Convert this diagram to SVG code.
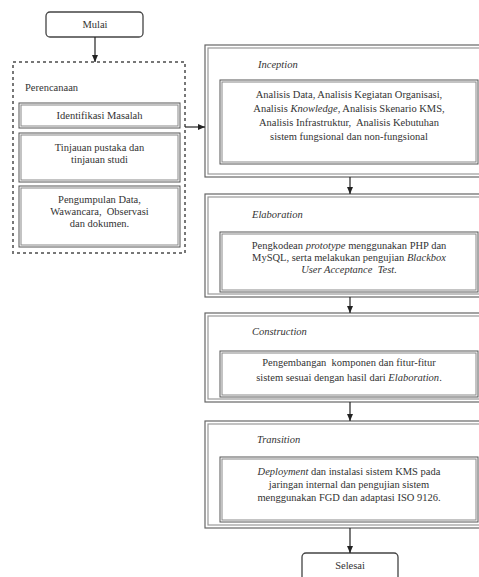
<svg xmlns="http://www.w3.org/2000/svg" width="479" height="577" viewBox="0 0 479 577" font-family="'Liberation Serif', 'Times New Roman', serif">
<defs>
<marker id="ah" markerWidth="8" markerHeight="8" refX="7" refY="4" orient="auto" markerUnits="userSpaceOnUse">
<path d="M0,1 L7,4 L0,7 z" fill="#222"/>
</marker>
<style>
text{font-family:'Liberation Serif','Times New Roman',serif;font-size:10.5px;fill:#333;}
.c{text-anchor:middle;}
.i{font-style:italic;}
.term{fill:#fff;stroke:#444;stroke-width:1.3;}
.dash{fill:#fff;stroke:#777;stroke-width:2;stroke-dasharray:3 3;}
.dbl{fill:none;stroke:#555;stroke-width:1;}
.dbl2{fill:none;stroke:#888;stroke-width:1;}
.outer{fill:#fff;stroke:#666;stroke-width:1.2;}
.outer2{fill:none;stroke:#999;stroke-width:1.2;}
.conn{stroke:#222;stroke-width:1.2;fill:none;marker-end:url(#ah);}
</style>
</defs>
<rect width="479" height="577" fill="#fff"/>

<g id="mulai">
<rect class="term" x="46" y="12" width="97" height="25" rx="4"/>
<text class="c" x="95" y="28">Mulai</text>
</g>

<g id="perencanaan">
<rect class="dash" x="13" y="62" width="172" height="191"/>
<text x="25" y="91">Perencanaan</text>
</g>

<g id="identifikasi">
<rect class="dbl" x="19" y="103" width="161" height="25"/>
<rect class="dbl2" x="21" y="105" width="157" height="21"/>
<text class="c" x="99.5" y="119">Identifikasi Masalah</text>
</g>

<g id="tinjauan">
<rect class="dbl" x="19" y="133" width="161" height="49"/>
<rect class="dbl2" x="21" y="135" width="157" height="45"/>
<text class="c" x="99.5" y="151">Tinjauan pustaka dan</text>
<text class="c" x="99.5" y="163">tinjauan studi</text>
</g>

<g id="pengumpulan">
<rect class="dbl" x="19" y="186" width="161" height="61"/>
<rect class="dbl2" x="21" y="188" width="157" height="57"/>
<text class="c" x="99.5" y="203">Pengumpulan Data,</text>
<text class="c" x="99.5" y="215" xml:space="preserve">Wawancara,  Observasi</text>
<text class="c" x="99.5" y="227">dan dokumen.</text>
</g>

<g id="inception">
<rect class="outer" x="205" y="45" width="290" height="132"/>
<rect class="outer2" x="208" y="48" width="290" height="126"/>
<text class="i" x="258" y="68">Inception</text>
<rect class="dbl" x="220" y="80" width="258" height="84"/>
<rect class="dbl2" x="222" y="82" width="254" height="80"/>
<text class="c" x="349" y="98">Analisis Data, Analisis Kegiatan Organisasi,</text>
<text class="c" x="349" y="112">Analisis <tspan class="i">Knowledge</tspan>, Analisis Skenario KMS,</text>
<text class="c" x="349" y="126" xml:space="preserve">Analisis Infrastruktur,  Analisis Kebutuhan</text>
<text class="c" x="349" y="140">sistem fungsional dan non-fungsional</text>
</g>

<g id="elaboration">
<rect class="outer" x="205" y="194" width="290" height="103"/>
<rect class="outer2" x="208" y="197" width="290" height="97"/>
<text class="i" x="252" y="218">Elaboration</text>
<rect class="dbl" x="220" y="232" width="258" height="60"/>
<rect class="dbl2" x="222" y="234" width="254" height="56"/>
<text class="c" x="349" y="249">Pengkodean <tspan class="i">prototype</tspan> menggunakan PHP dan</text>
<text class="c" x="349" y="261">MySQL, serta melakukan pengujian <tspan class="i">Blackbox</tspan></text>
<text class="c i" x="349" y="273" xml:space="preserve">User Acceptance  Test.</text>
</g>

<g id="construction">
<rect class="outer" x="205" y="313" width="290" height="89"/>
<rect class="outer2" x="208" y="316" width="290" height="83"/>
<text class="i" x="252" y="335">Construction</text>
<rect class="dbl" x="220" y="351" width="258" height="46"/>
<rect class="dbl2" x="222" y="353" width="254" height="42"/>
<text class="c" x="349" y="366" xml:space="preserve">Pengembangan  komponen dan fitur-fitur</text>
<text class="c" x="349" y="381">sistem sesuai dengan hasil dari <tspan class="i">Elaboration</tspan>.</text>
</g>

<g id="transition">
<rect class="outer" x="205" y="421" width="290" height="107"/>
<rect class="outer2" x="208" y="424" width="290" height="101"/>
<text class="i" x="257" y="443">Transition</text>
<rect class="dbl" x="220" y="457" width="258" height="65"/>
<rect class="dbl2" x="222" y="459" width="254" height="61"/>
<text class="c" x="349" y="475"><tspan class="i">Deployment</tspan> dan instalasi sistem KMS pada</text>
<text class="c" x="349" y="488">jaringan internal dan pengujian sistem</text>
<text class="c" x="349" y="501">menggunakan FGD dan adaptasi ISO 9126.</text>
</g>

<g id="selesai">
<rect class="term" x="302" y="553" width="96" height="30" rx="4"/>
<text class="c" x="350" y="569">Selesai</text>
</g>

<g id="connectors">
<line class="conn" x1="95" y1="37" x2="95" y2="62"/>
<line class="conn" x1="185" y1="127" x2="205" y2="127"/>
<line class="conn" x1="350" y1="177" x2="350" y2="194"/>
<line class="conn" x1="350" y1="297" x2="350" y2="313"/>
<line class="conn" x1="350" y1="402" x2="350" y2="421"/>
<line class="conn" x1="350" y1="528" x2="350" y2="553"/>
</g>
</svg>
